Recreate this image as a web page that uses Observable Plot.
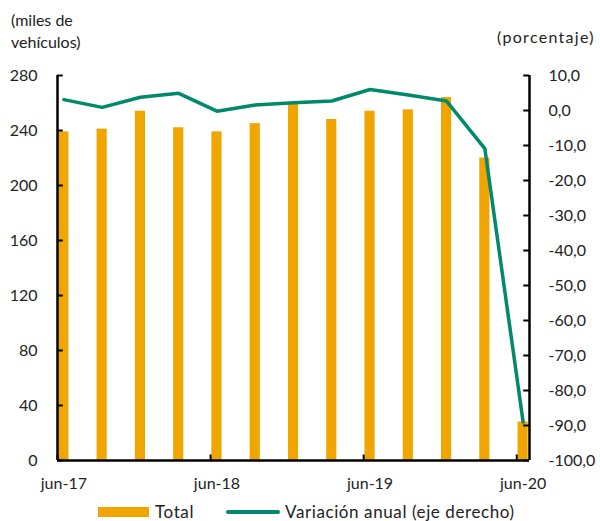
<!DOCTYPE html>
<html>
<head>
<meta charset="utf-8">
<script src="https://cdn.jsdelivr.net/npm/d3@7"></script>
<script src="https://cdn.jsdelivr.net/npm/@observablehq/plot@0.6"></script>
<style>
  body { margin: 0; background: #fff; }
  #wrap { position: relative; width: 600px; height: 521px; font-family: Lato, "Open Sans", sans-serif; color: #222; }
  .lbl { position: absolute; font-size: 16px; line-height: 22px; white-space: nowrap; }
  #legend { position: absolute; left: 98px; top: 501px; font-size: 17px; letter-spacing: 0.6px; display: flex; align-items: center; white-space: nowrap; }
  .sw-bar { display: inline-block; width: 51px; height: 10px; background: #F0A500; margin-right: 6px; }
  .sw-line { display: inline-block; width: 54px; height: 4px; background: #00896A; margin-left: 32px; margin-right: 5px; border-radius: 2px; }
</style>
</head>
<body>
<div id="wrap">
  <div class="lbl" style="left:11px; top:9px;">(miles de<br>vehículos)</div>
  <div class="lbl" style="left:497px; top:26px; letter-spacing:1.3px;">(porcentaje)</div>
  <div id="chart"></div>
  <div id="legend"><span class="sw-bar"></span>Total<span class="sw-line"></span>Variación anual (eje derecho)</div>
</div>
<script>
// Data (quarterly)
const periods = ["jun-17","sep-17","dic-17","mar-18","jun-18","sep-18","dic-18","mar-19","jun-19","sep-19","dic-19","mar-20","jun-20"];
const total = [239, 241, 254, 242, 239, 245, 259, 248, 254, 255, 264, 220, 28];
const variacion = [3.1, 0.9, 3.8, 4.9, -0.2, 1.6, 2.2, 2.7, 6.0, 4.4, 2.7, -10.9, -89.0];
const xTickLabels = ["jun-17", "jun-18", "jun-19", "jun-20"];
const leftTicks = [0, 40, 80, 120, 160, 200, 240, 280];
const rightTicks = [10, 0, -10, -20, -30, -40, -50, -60, -70, -80, -90, -100];

const monthNum = {ene:0,feb:1,mar:2,abr:3,may:4,jun:5,jul:6,ago:7,sep:8,oct:9,nov:10,dic:11};
const monthIndex = (lbl) => {
  const [m, y] = lbl.split("-");
  return (+y - 17) * 12 + monthNum[m] - 5;
};
const data = periods.map((p, i) => ({p, idx: monthIndex(p), total: total[i], varia: variacion[i]}));

// right axis (percent) mapped onto the left scale
const pMin = -100, pMax = 10, lMax = 280;
const toLeft = (v) => (v - pMin) * lMax / (pMax - pMin);
const fmtPct = (v) => v.toFixed(1).replace(".", ",");

const nMonths = monthIndex("jun-20") + 1;
const green = "#00896A", orange = "#F0A500";

const chart = Plot.plot({
  width: 600,
  height: 521,
  marginTop: 75,
  marginBottom: 61,
  marginLeft: 57,
  marginRight: 71,
  style: {fontFamily: "Lato, 'Open Sans', sans-serif", fontSize: "16px", color: "#222"},
  x: {domain: [0, nMonths], axis: null, label: null},
  y: {domain: [0, lMax], axis: null, label: null},
  marks: [
    Plot.rectY(data, {x1: "idx", x2: d => d.idx + 1, y: "total", fill: orange, insetLeft: 1.3, insetRight: 1.3}),
    Plot.line(data, {x: d => d.idx + 0.5, y: d => toLeft(d.varia), stroke: green, strokeWidth: 3.5, strokeLinejoin: "miter"}),
    // left axis
    Plot.axisY(leftTicks, {anchor: "left", label: null, tickSize: 0, tickPadding: 20, fontSize: 16}),
    Plot.ruleY(leftTicks, {y: d => d, x1: 0, x2: 0.45, stroke: "#000", strokeWidth: 2}),
    // right axis
    Plot.axisY(rightTicks.map(toLeft), {anchor: "right", label: null, tickSize: 0, tickPadding: 19, textAnchor: "start", fontSize: 16, tickFormat: d => fmtPct(d * (pMax - pMin) / lMax + pMin)}),
    Plot.ruleY(rightTicks.map(toLeft), {y: d => d, x1: nMonths - 0.45, x2: nMonths, stroke: "#000", strokeWidth: 2}),
    // x axis
    Plot.axisX(xTickLabels.map(l => monthIndex(l) + 0.5), {anchor: "bottom", label: null, tickSize: 0, tickPadding: 17, fontSize: 16, tickFormat: (d, i) => xTickLabels[i]}),
    Plot.ruleX(xTickLabels.map(monthIndex), {x: d => d, y1: 0, y2: 4, stroke: "#000", strokeWidth: 2}),
    // axis lines
    Plot.ruleX([0], {stroke: "#000", strokeWidth: 2.5}),
    Plot.ruleX([nMonths], {stroke: "#000", strokeWidth: 2.5}),
    Plot.ruleY([0], {stroke: "#000", strokeWidth: 2.5})
  ]
});
document.getElementById("chart").appendChild(chart);
</script>
</body>
</html>
